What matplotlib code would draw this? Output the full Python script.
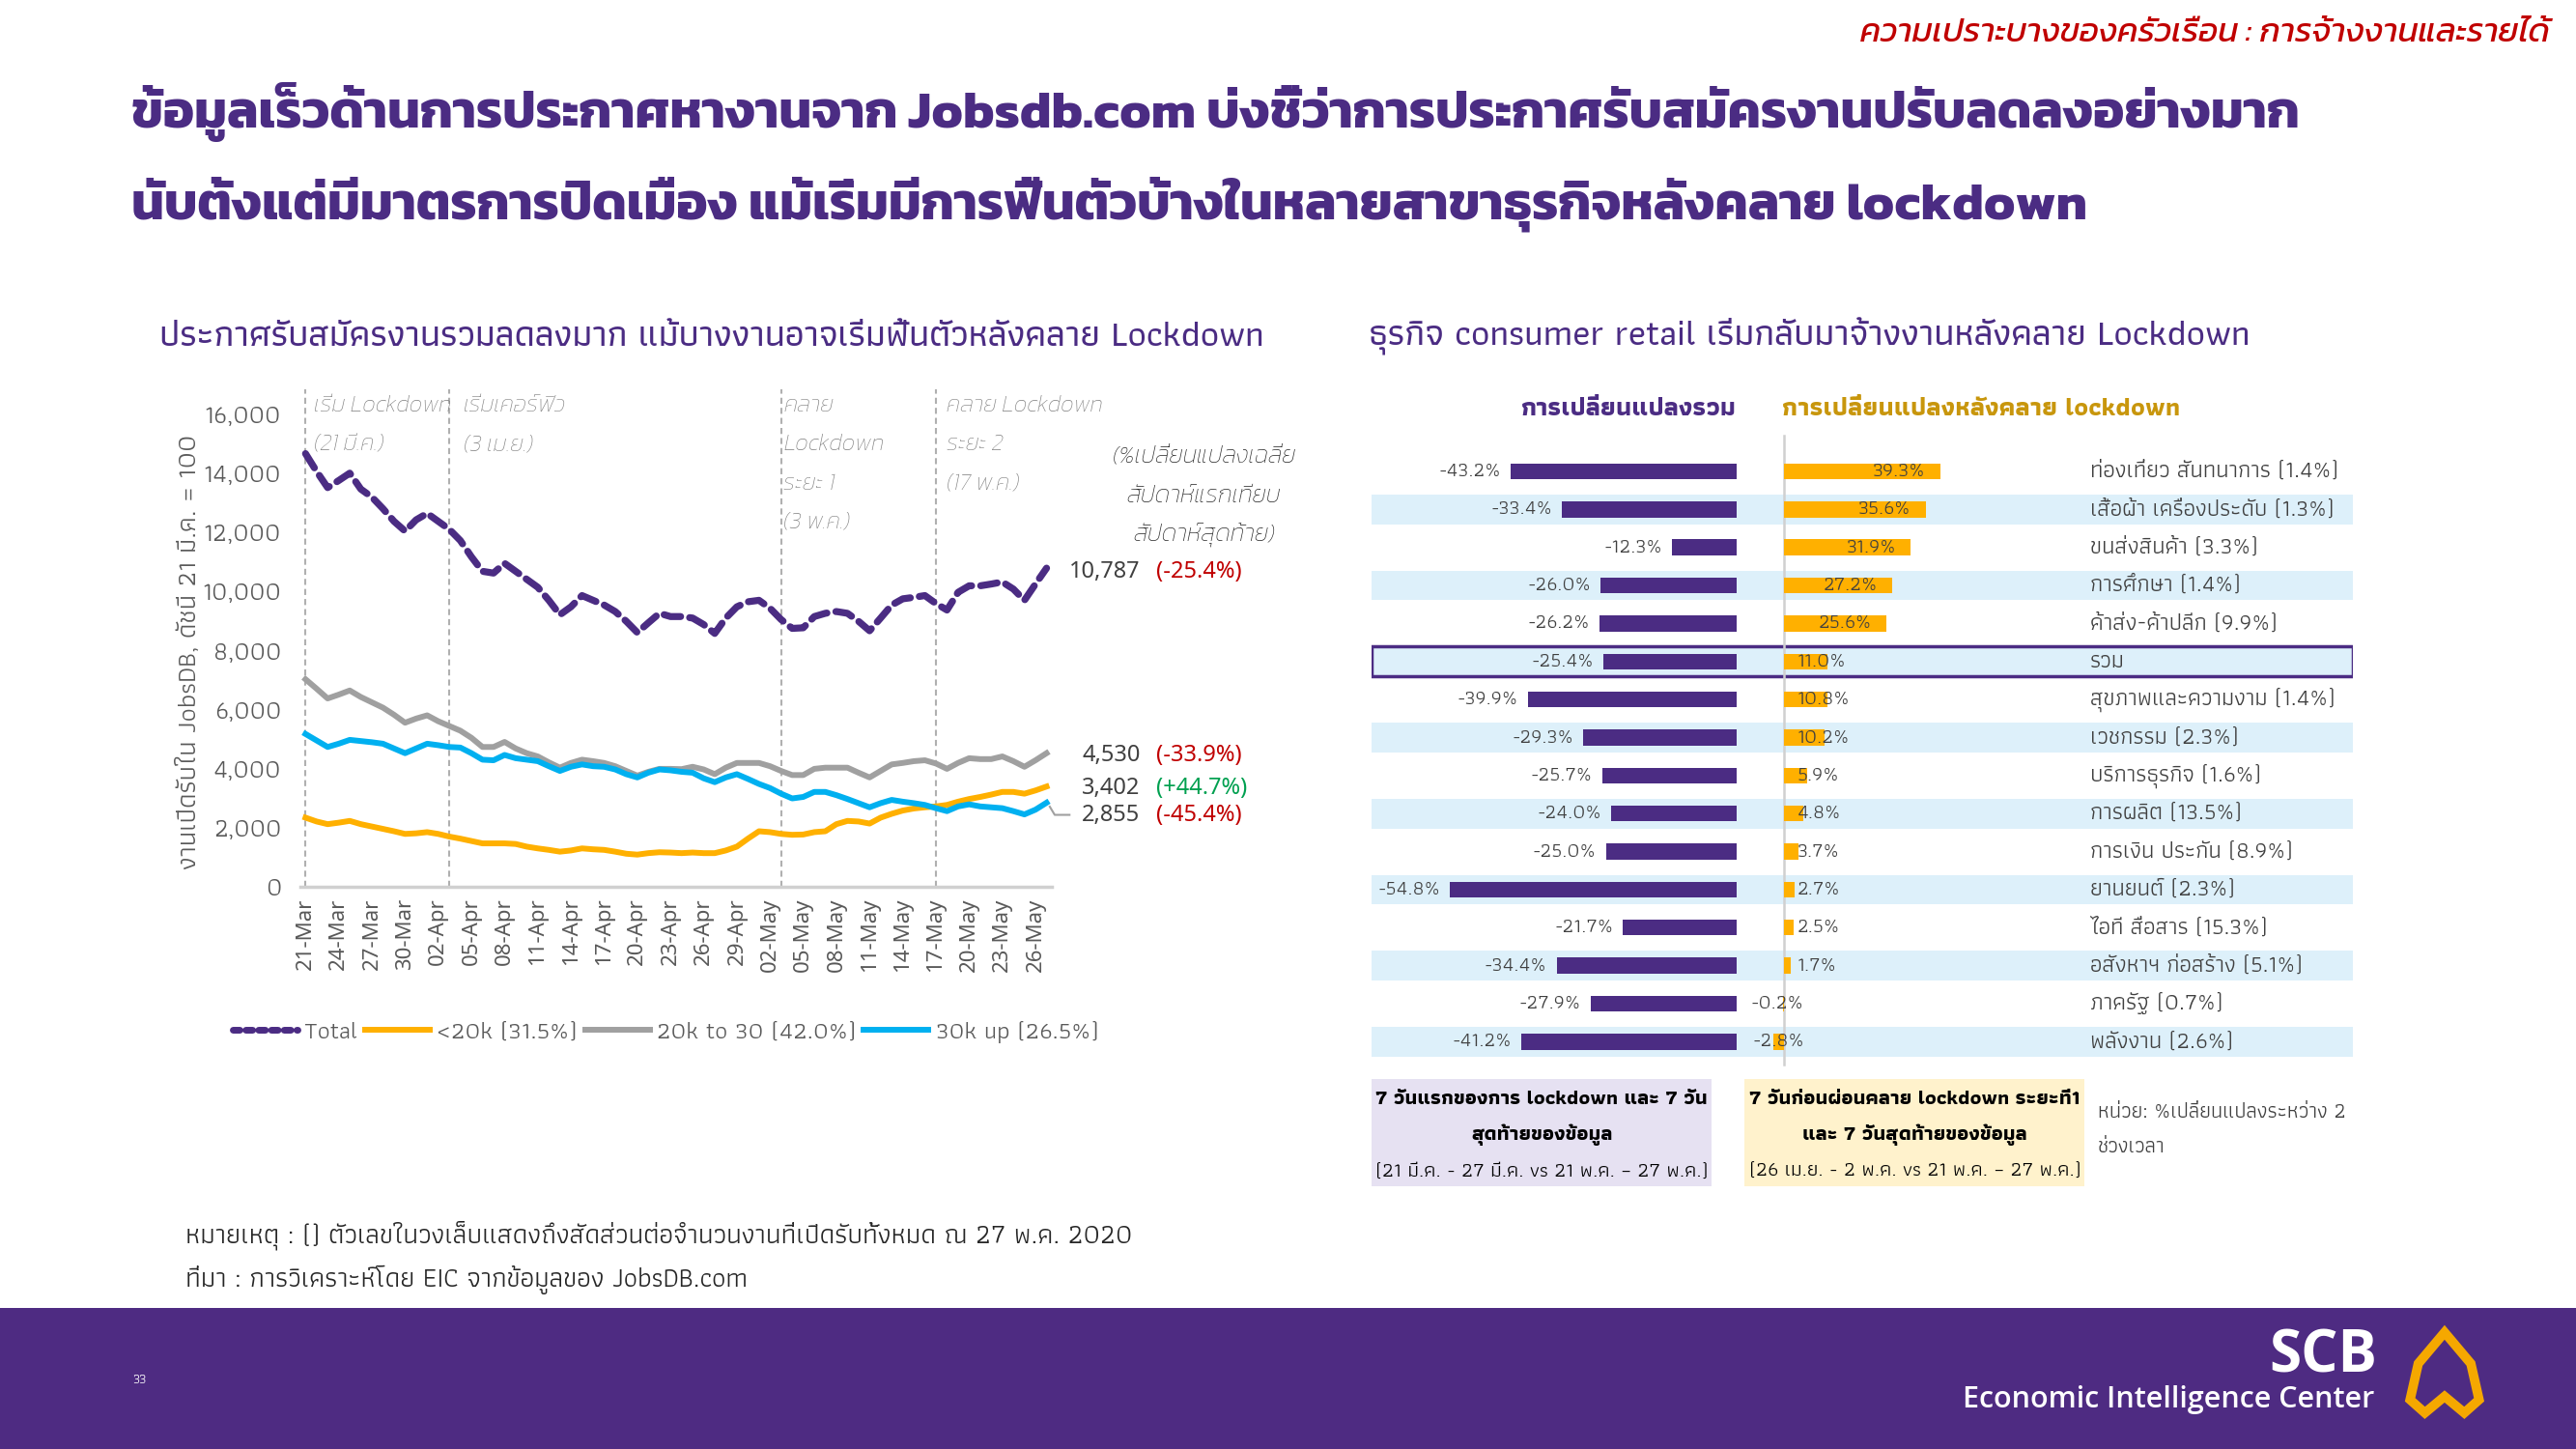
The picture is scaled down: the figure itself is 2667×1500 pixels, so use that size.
import numpy as np
import matplotlib
matplotlib.use('Agg')
import matplotlib.pyplot as plt
from matplotlib import font_manager as fm
from matplotlib.patches import Rectangle, Polygon
from matplotlib.lines import Line2D

# ---------------- data ----------------
tick_labels = ['21-Mar', '24-Mar', '27-Mar', '30-Mar', '02-Apr', '05-Apr', '08-Apr', '11-Apr',
               '14-Apr', '17-Apr', '20-Apr', '23-Apr', '26-Apr', '29-Apr', '02-May', '05-May',
               '08-May', '11-May', '14-May', '17-May', '20-May', '23-May', '26-May']

total = [14660, 14060, 13510, 13750, 14000, 13460, 13190, 12800, 12370, 12040,
         12420, 12640, 12370, 12100, 11720, 11170, 10680, 10620, 10950, 10680,
         10410, 10140, 9700, 9210, 9480, 9860, 9700, 9540, 9320, 8990,
         8610, 8940, 9260, 9150, 9150, 9100, 8880, 8580, 9100, 9480,
         9650, 9700, 9430, 9050, 8750, 8770, 9150, 9260, 9320, 9260,
         8990, 8670, 9100, 9540, 9750, 9800, 9860, 9590, 9370, 9970,
         10190, 10190, 10250, 10320, 10080, 9700, 10250, 10787]
low20k = [2350, 2220, 2130, 2180, 2240, 2130, 2050, 1970, 1890, 1800,
          1820, 1860, 1800, 1710, 1640, 1560, 1480, 1480, 1480, 1460,
          1370, 1310, 1260, 1200, 1240, 1310, 1280, 1260, 1200, 1130,
          1100, 1150, 1180, 1170, 1150, 1170, 1150, 1150, 1240, 1370,
          1640, 1890, 1860, 1800, 1770, 1780, 1860, 1890, 2130, 2240,
          2220, 2150, 2350, 2480, 2590, 2660, 2700, 2730, 2780, 2890,
          2980, 3050, 3130, 3220, 3220, 3160, 3270, 3402]
mid20_30 = [7030, 6710, 6380, 6510, 6650, 6430, 6250, 6070, 5830, 5560,
            5700, 5810, 5610, 5450, 5290, 5050, 4740, 4740, 4910, 4690,
            4530, 4420, 4220, 4040, 4200, 4310, 4260, 4200, 4090, 3930,
            3770, 3900, 4000, 4000, 3990, 4070, 3980, 3820, 4040, 4200,
            4200, 4200, 4090, 3930, 3790, 3790, 4000, 4040, 4040, 4040,
            3870, 3710, 3930, 4150, 4200, 4260, 4290, 4180, 4000, 4200,
            4360, 4330, 4330, 4420, 4260, 4070, 4290, 4530]
up30k = [5180, 4960, 4740, 4850, 4980, 4940, 4900, 4850, 4690, 4530,
         4690, 4850, 4800, 4740, 4720, 4530, 4310, 4290, 4470, 4360,
         4310, 4260, 4090, 3930, 4070, 4150, 4090, 4070, 3980, 3820,
         3710, 3870, 3980, 3950, 3900, 3870, 3680, 3550, 3710, 3820,
         3660, 3490, 3350, 3160, 3000, 3050, 3220, 3220, 3110, 2980,
         2840, 2700, 2840, 2950, 2890, 2840, 2780, 2670, 2570, 2730,
         2800, 2730, 2700, 2670, 2570, 2460, 2620, 2855]
series_names = ['Total', '<20k (31.5%)', '20k to 30 (42.0%)', '30k up (26.5%)']
end_values = ['10,787', '4,530', '3,402', '2,855']
end_changes = ['(-25.4%)', '(-33.9%)', '(+44.7%)', '(-45.4%)']
event_days = [0, 13, 43, 57]
event_texts = [['เริ่ม Lockdown', '(21 มี.ค.)'],
               ['เริ่มเคอร์ฟิว', '(3 เม.ย.)'],
               ['คลาย', 'Lockdown', 'ระยะ 1', '(3 พ.ค.)'],
               ['คลาย Lockdown', 'ระยะ 2', '(17 พ.ค.)']]

sectors = ['ท่องเที่ยว สันทนาการ (1.4%)', 'เสื้อผ้า เครื่องประดับ (1.3%)', 'ขนส่งสินค้า (3.3%)',
           'การศึกษา (1.4%)', 'ค้าส่ง-ค้าปลีก (9.9%)', 'รวม', 'สุขภาพและความงาม (1.4%)',
           'เวชกรรม (2.3%)', 'บริการธุรกิจ (1.6%)', 'การผลิต (13.5%)', 'การเงิน ประกัน (8.9%)',
           'ยานยนต์ (2.3%)', 'ไอที สื่อสาร (15.3%)', 'อสังหาฯ ก่อสร้าง (5.1%)', 'ภาครัฐ (0.7%)',
           'พลังงาน (2.6%)']
overall_change = [-43.2, -33.4, -12.3, -26.0, -26.2, -25.4, -39.9, -29.3, -25.7, -24.0,
                  -25.0, -54.8, -21.7, -34.4, -27.9, -41.2]
post_change = [39.3, 35.6, 31.9, 27.2, 25.6, 11.0, 10.8, 10.2, 5.9, 4.8,
               3.7, 2.7, 2.5, 1.7, -0.2, -2.8]

# ---------------- fonts ----------------
def find_thai_fonts():
    from matplotlib.ft2font import FT2Font
    found = set()
    for f in fm.fontManager.ttflist:
        if 'CJK' in f.name or f.name in found:
            continue
        try:
            cm = FT2Font(f.fname).get_charmap()
        except Exception:
            continue
        if 0x0E01 in cm and 0x0E40 in cm:
            found.add(f.name)
    return found

thai_found = find_thai_fonts()

def pick(prefs):
    for p in prefs:
        if p in thai_found:
            return p
    return sorted(thai_found)[0] if thai_found else None

TITLE_F = pick(['Kanit', 'Prompt', 'Mitr', 'Noto Sans Thai'])
BODY_F = pick(['Athiti', 'Anuphan', 'Noto Sans Thai'])
BODY = [BODY_F, 'Noto Sans', 'DejaVu Sans'] if BODY_F else ['Noto Sans', 'DejaVu Sans']
TITLE = [TITLE_F, 'Noto Sans', 'DejaVu Sans'] if TITLE_F else BODY
LAT = ['Noto Sans', 'DejaVu Sans']
plt.rcParams['font.family'] = BODY

# ---------------- figure ----------------
W, H = 1568.0, 882.0
SC = 2667.0 / 1568.0
def fx(x): return x / W
def fy(y): return 1 - y / H

PURPLE = '#4B2C83'
YEL = '#FFB000'
GRAY = '#A0A0A0'
BLUE = '#00B0F0'
RED = '#C00000'
GREEN = '#00A050'
TXT = '#595959'

fig = plt.figure(figsize=(26.67, 15), dpi=100)
fig.patch.set_facecolor('white')
renderer = fig.canvas.get_renderer()

def fit(t, target, axis='w'):
    bb = t.get_window_extent(renderer)
    cur = bb.width if axis == 'w' else bb.height
    if cur > 0:
        t.set_fontsize(t.get_fontsize() * target * SC / cur)
    return t.get_fontsize()

# header texts
t = fig.text(fx(1552), fy(20), 'ความเปราะบางของครัวเรือน : การจ้างงานและรายได้', ha='right', va='center',
             color=RED, style='italic', fontsize=20, family=TITLE)
fit(t, 419)
t1 = fig.text(fx(80), fy(68), 'ข้อมูลเร็วด้านการประกาศหางานจาก Jobsdb.com บ่งชี้ว่าการประกาศรับสมัครงานปรับลดลงอย่างมาก',
              ha='left', va='center', color=PURPLE, fontweight='bold', fontsize=37, family=TITLE)
fs = fit(t1, 1318)
fig.text(fx(80), fy(124), 'นับตั้งแต่มีมาตรการปิดเมือง แม้เริ่มมีการฟื้นตัวบ้างในหลายสาขาธุรกิจหลังคลาย lockdown',
         ha='left', va='center', color=PURPLE, fontweight='bold', fontsize=fs, family=TITLE)
t = fig.text(fx(97), fy(205), 'ประกาศรับสมัครงานรวมลดลงมาก แม้บางงานอาจเริ่มฟื้นตัวหลังคลาย Lockdown',
             ha='left', va='center', color=PURPLE, fontsize=24, fontweight='medium')
fs = fit(t, 673)
fig.text(fx(833), fy(205), 'ธุรกิจ consumer retail เริ่มกลับมาจ้างงานหลังคลาย Lockdown',
         ha='left', va='center', color=PURPLE, fontsize=fs, fontweight='medium')

# ---------------- line chart ----------------
days = np.arange(len(total))
ax = fig.add_axes([fx(182.6), fy(540), fx(640.4 - 182.6), (540 - 237) / H])
ax.set_xlim(-0.5, 67.5)
ax.set_ylim(0, 16833)
for s in ['top', 'right', 'left']:
    ax.spines[s].set_visible(False)
ax.spines['bottom'].set_color('#D0D0D0')
ax.spines['bottom'].set_linewidth(2.5)
ax.set_yticks(np.arange(0, 16001, 2000))
ax.set_yticklabels([f'{v:,}' for v in range(0, 16001, 2000)])
ax.set_xticks(np.arange(0, 67, 3))
ax.set_xticklabels(tick_labels, rotation=90, family=LAT)
ax.tick_params(axis='x', length=0, labelsize=16, labelcolor=TXT, pad=8)
ax.tick_params(axis='y', length=0, labelsize=19, labelcolor=TXT, pad=14)
for d in event_days:
    ax.axvline(d, color='#B0B0B0', lw=1.5, ls=(0, (3, 2)), zorder=1)
ax.plot(days, low20k, color=YEL, lw=4.3, solid_joinstyle='round', zorder=3)
ax.plot(days, mid20_30, color=GRAY, lw=4.3, solid_joinstyle='round', zorder=3)
ax.plot(days, up30k, color=BLUE, lw=4.3, solid_joinstyle='round', zorder=4)
ax.plot(days, total, color=PURPLE, lw=5.2, ls=(0, (2.4, 1.3)), dash_capstyle='round', zorder=5)
# leader line of the last label
fig.add_artist(Line2D([fx(639), fx(642), fx(651)], [fy(491), fy(496), fy(496)],
                      transform=fig.transFigure, color='#A0A0A0', lw=1.5))

t = fig.text(fx(115), fy(397), 'งานเปิดรับใน JobsDB, ดัชนี 21 มี.ค. = 100', rotation=90,
             ha='center', va='center', color=TXT, fontsize=17)
fit(t, 265, axis='h')

ev_x = [191, 282, 477, 576]
ev_fs = None
for xx, lines in zip(ev_x, event_texts):
    for k, s in enumerate(lines):
        t = fig.text(fx(xx), fy(247 + 23.7 * k), s, ha='left', va='center', color='#7F7F7F',
                     style='italic', fontweight='light', fontsize=16, family=TITLE)
        if ev_fs is None:
            ev_fs = fit(t, 84)
        else:
            t.set_fontsize(ev_fs)

note_fs = None
for k, s in enumerate(['(%เปลี่ยนแปลงเฉลี่ย', 'สัปดาห์แรกเทียบ', 'สัปดาห์สุดท้าย)']):
    t = fig.text(fx(733), fy(278 + 24 * k), s, ha='center', va='center', color='#262626',
                 style='italic', fontweight='light', fontsize=16, family=TITLE)
    if note_fs is None:
        note_fs = fit(t, 112)
    else:
        t.set_fontsize(note_fs)

end_y = [348, 460, 480, 496]
chg_col = [RED, RED, GREEN, RED]
for yy, v, c, col in zip(end_y, end_values, end_changes, chg_col):
    fig.text(fx(694), fy(yy), v, ha='right', va='center', color='#404040', fontsize=17, family=LAT)
    fig.text(fx(704), fy(yy), c, ha='left', va='center', color=col, fontsize=17, family=LAT)

handles = [Line2D([], [], color=PURPLE, lw=5, ls=(0, (1.0, 0.9)), dash_capstyle='round'),
           Line2D([], [], color=YEL, lw=4.3),
           Line2D([], [], color=GRAY, lw=4.3),
           Line2D([], [], color=BLUE, lw=4.3)]
fig.legend(handles, series_names, loc='center left', bbox_to_anchor=(fx(128), fy(628)),
           ncol=4, frameon=False, fontsize=18.5, handlelength=2.6, handletextpad=0.3,
           columnspacing=0.3, labelcolor=TXT)

# ---------------- bar chart ----------------
top_px, bot_px = 275.4, 645.6
n = len(sectors)
ax_bg = fig.add_axes([fx(835), fy(bot_px), fx(1432 - 835), (bot_px - top_px) / H])
ax_bg.set_xlim(0, 1)
ax_bg.set_ylim(n - 0.5, -0.5)
ax_bg.axis('off')
for i in range(1, n, 2):
    ax_bg.add_patch(Rectangle((0, i - 0.39), 1, 0.78, facecolor='#DDF0FA', edgecolor='none'))
ax_bg.add_patch(Rectangle((0, 5 - 0.39), 1, 0.78, facecolor='#DDF0FA', edgecolor=PURPLE, lw=2.5))

ax_l = fig.add_axes([fx(835), fy(bot_px), fx(1062 - 835), (bot_px - top_px) / H])
ax_l.set_xlim((835 - 1057) / 3.18, (1062 - 1057) / 3.18)
ax_l.set_ylim(n - 0.5, -0.5)
ax_l.axis('off')
ax_l.patch.set_alpha(0)
ax_l.barh(np.arange(n), overall_change, height=0.42, color=PURPLE)

ax_r = fig.add_axes([fx(1062), fy(bot_px), fx(1270 - 1062), (bot_px - top_px) / H])
ax_r.set_xlim((1062 - 1086) / 2.42, (1270 - 1086) / 2.42)
ax_r.set_ylim(n - 0.5, -0.5)
ax_r.axis('off')
ax_r.patch.set_alpha(0)
ax_r.plot([0, 0], [-0.95, n - 0.4], color='#D0D0D0', lw=1.8, clip_on=False, zorder=1)
ax_r.barh(np.arange(n), post_change, height=0.42, color=YEL, zorder=2)

t = ax_r.text((1272 - 1086) / 2.42, 0, sectors[0], ha='left', va='center', fontsize=15)
sec_fs = fit(t, 152)
t.remove()
t = ax_l.text(0, 0, '-43.2%', fontsize=15)
val_fs = fit(t, 38)
t.remove()

for i, v in enumerate(overall_change):
    ax_l.text(v - 1.9, i, f'{v:.1f}%', ha='right', va='center', color='#404040', fontsize=val_fs)
for i, v in enumerate(post_change):
    lab = f'{v:.1f}%'
    if v < 0:
        ax_r.text(5.0, i, lab, ha='right', va='center', color='#404040', fontsize=val_fs, zorder=3)
    elif v > 18:
        ax_r.text(v - 3.7, i, lab, ha='right', va='center', color='#404040', fontsize=val_fs, zorder=3)
    else:
        ax_r.text(3.3, i, lab, ha='left', va='center', color='#404040', fontsize=val_fs, zorder=3)
    ax_r.text((1272 - 1086) / 2.42, i, sectors[i], ha='left', va='center', color='#404040',
              fontsize=sec_fs, clip_on=False)

t = fig.text(fx(1057), fy(249), 'การเปลี่ยนแปลงรวม', ha='right', va='center', color=PURPLE,
             fontweight='bold', fontsize=18)
fit(t, 132)
t = fig.text(fx(1085), fy(249), 'การเปลี่ยนแปลงหลังคลาย lockdown', ha='left', va='center',
             color='#C8960C', fontweight='bold', fontsize=18)
fit(t, 243)

# bottom boxes
box_specs = [(835, '#E6E1F2', ['7 วันแรกของการ lockdown และ 7 วัน', 'สุดท้ายของข้อมูล',
                                '(21 มี.ค. - 27 มี.ค. vs 21 พ.ค. – 27 พ.ค.)']),
             (1062, '#FFF2CC', ['7 วันก่อนผ่อนคลาย lockdown ระยะที่1', 'และ 7 วันสุดท้ายของข้อมูล',
                                 '(26 เม.ย. - 2 พ.ค. vs 21 พ.ค. – 27 พ.ค.)'])]
box_fs = None
box_texts = []
for x0, col, lines in box_specs:
    fig.add_artist(Rectangle((fx(x0), fy(722)), fx(207), 65 / H, transform=fig.transFigure,
                             facecolor=col, edgecolor='none'))
    for k, s in enumerate(lines):
        t = fig.text(fx(x0 + 103.5), fy(669 + 22 * k), s, ha='center', va='center', color='black',
                     fontsize=13, fontweight='bold' if k < 2 else 'normal')
        box_texts.append(t)
        if k == 2 and box_fs is None:
            box_fs = fit(t, 202)
for t in box_texts:
    t.set_fontsize(box_fs)
t = fig.text(fx(1277), fy(677), 'หน่วย: %เปลี่ยนแปลงระหว่าง 2', ha='left', va='center', color='#404040', fontsize=13)
u_fs = fit(t, 152)
fig.text(fx(1277), fy(698), 'ช่วงเวลา', ha='left', va='center', color='#404040', fontsize=u_fs)

# notes
t = fig.text(fx(113), fy(752), 'หมายเหตุ : () ตัวเลขในวงเล็บแสดงถึงสัดส่วนต่อจำนวนงานที่เปิดรับทั้งหมด ณ 27 พ.ค. 2020',
             ha='left', va='center', color='#262626', fontsize=17)
n_fs = fit(t, 576)
fig.text(fx(113), fy(779), 'ที่มา : การวิเคราะห์โดย EIC จากข้อมูลของ JobsDB.com',
         ha='left', va='center', color='#262626', fontsize=n_fs)

# footer
fig.add_artist(Rectangle((0, 0), 1, (H - 796) / H, transform=fig.transFigure,
                         facecolor='#4E2B82', edgecolor='none'))
fig.text(fx(85), fy(840), '33', ha='center', va='center', color='white', fontsize=10)
t = fig.text(fx(1447), fy(826), 'SCB', ha='right', va='center', color='white', fontweight='bold',
             fontsize=34, family=['Open Sans', 'Noto Sans'])
fit(t, 66)
t = fig.text(fx(1445), fy(852), 'Economic Intelligence Center', ha='right', va='center', color='white',
             fontsize=22, fontweight='semibold', family=['Open Sans', 'Noto Sans'])
fit(t, 250)
logo = [(1488, 811), (1504, 830), (1509, 852), (1500, 860), (1488, 850), (1476, 860), (1467, 852), (1472, 830)]
fig.add_artist(Polygon([(fx(a), fy(b)) for a, b in logo], closed=True, transform=fig.transFigure,
                       facecolor='none', edgecolor='#F5A800', lw=7, joinstyle='miter'))

fig.savefig('out.png', dpi=100)
